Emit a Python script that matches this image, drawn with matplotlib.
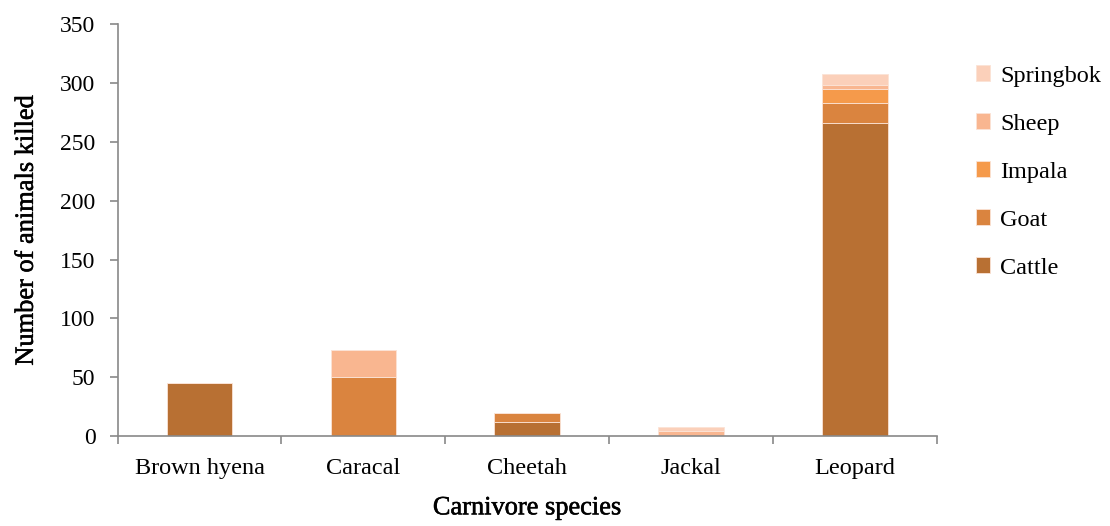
import numpy as np
import matplotlib.pyplot as plt
import matplotlib.patheffects as pe

species = ['Brown hyena', 'Caracal', 'Cheetah', 'Jackal', 'Leopard']
prey = ['Cattle', 'Goat', 'Impala', 'Sheep', 'Springbok']
cattle = [45, 0, 12, 0, 266]
goat = [0, 50, 8, 0, 17]
impala = [0, 0, 0, 0, 12]
sheep = [0, 23, 0, 4, 3]
springbok = [0, 0, 0, 4, 10]
colors = ['#B87033', '#DA843F', '#F59A4B', '#F9B690', '#FBD0BA']

plt.rcParams['font.family'] = ['Liberation Serif', 'DejaVu Serif']

fig = plt.figure(figsize=(11.1, 5.26), dpi=100)
ax = fig.add_axes([0.106, 0.171, 0.738, 0.783])

x = np.arange(len(species))
bottom = np.zeros(len(species))
handles = []
for name, vals, c in zip(prey, [cattle, goat, impala, sheep, springbok], colors):
    vals = np.array(vals, dtype=float)
    b = ax.bar(x, vals, 0.4, bottom=bottom, color=c, edgecolor='#FBE3D6', linewidth=0.6, label=name)
    handles.append(b)
    bottom += vals

ax.set_xlim(-0.5, len(species) - 0.5)
ax.set_ylim(0, 350)
ax.set_yticks(np.arange(0, 351, 50))
ax.set_xticks(x)
ax.set_xticklabels(species)
ax.set_xticks(np.arange(-0.5, len(species)), minor=True)
ax.tick_params(axis='x', which='major', length=0, pad=16, labelsize=17.5)
ax.tick_params(axis='x', which='minor', length=6, color='#898989', width=1.2)
ax.tick_params(axis='y', length=6, color='#898989', width=1.2, labelsize=17, pad=10)

for s in ['top', 'right']:
    ax.spines[s].set_visible(False)
for s in ['left', 'bottom']:
    ax.spines[s].set_color('#898989')
    ax.spines[s].set_linewidth(1.2)

bolder = [pe.withStroke(linewidth=0.4, foreground='black')]
ax.set_ylabel('Number of animals killed', fontsize=19, labelpad=16, path_effects=bolder)
ax.set_xlabel('Carnivore species', fontsize=19, labelpad=13, path_effects=bolder)

fig.legend(handles[::-1], prey[::-1], loc='upper left', bbox_to_anchor=(0.879, 0.876),
           frameon=False, fontsize=17.5, handlelength=0.6, handleheight=0.6,
           handletextpad=0.4, labelspacing=1.1, borderpad=0, borderaxespad=0)

fig.savefig('out.png', dpi=100)
